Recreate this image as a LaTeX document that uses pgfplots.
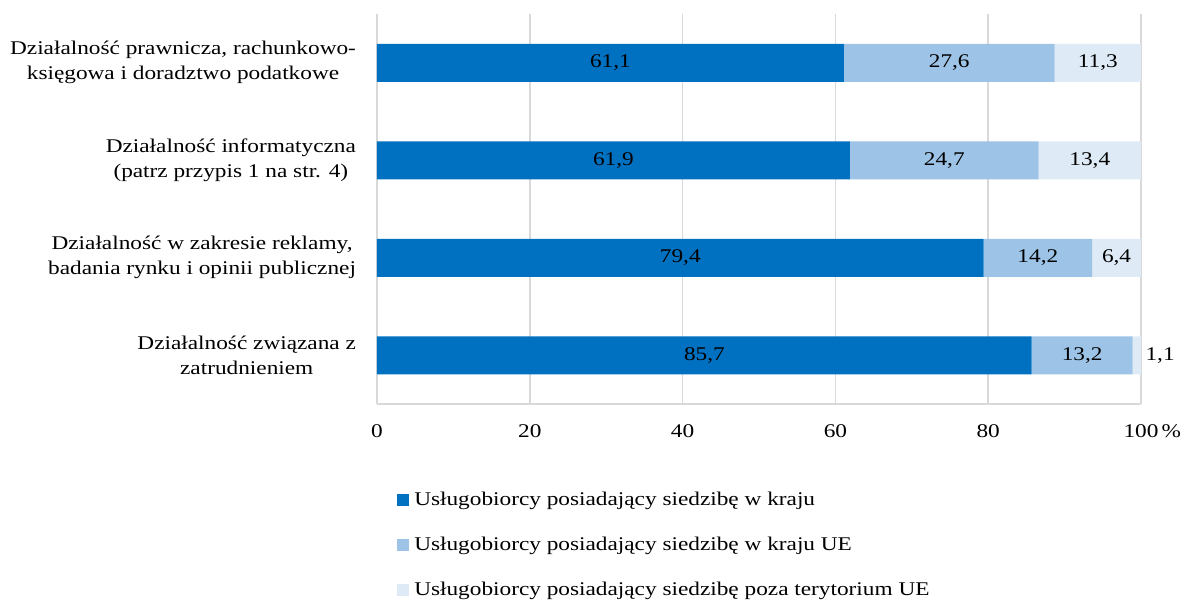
\documentclass[border=0pt]{standalone}
\usepackage{fontspec}
\setmainfont{Liberation Serif}[FakeStretch=1.2]
\usepackage{pgfplots}
\pgfplotsset{compat=1.18}
\definecolor{kraj}{HTML}{0070C0}
\definecolor{ue}{HTML}{9DC3E6}
\definecolor{poza}{HTML}{DEEBF7}
\definecolor{siatka}{HTML}{D9D9D9}

\begin{document}
\begin{tikzpicture}[font=\fontsize{9.7}{12.5}\selectfont]
\path[use as bounding box] (-188.5pt,-98pt) rectangle (403.5pt,202pt);
\pgfplotsset{common/.style={scale only axis,width=382pt,height=195pt,at={(0,0)},anchor=south west,
  xmin=0,xmax=100,ymin=-0.5,ymax=3.5,y dir=reverse}}
\begin{axis}[common,
  xbar stacked,bar width=19pt,
  axis x line*=bottom,axis y line*=left,
  x axis line style={draw=siatka,line width=0.8pt},y axis line style={draw=none},
  xtick={0,20,40,60,80,100},xticklabels={0,20,40,60,80,{100\rlap{\,\%}}},
  ytick={0,1,2,3},
  yticklabels={{Działalność prawnicza, rachunkowo-\\księgowa i doradztwo podatkowe},
    {Działalność informatyczna\\(patrz przypis 1 na str. 4)},
    {Działalność w zakresie reklamy,\\badania rynku i opinii publicznej},
    {Działalność związana z\\zatrudnieniem}},
  major tick length=0pt,
  xmajorgrids,grid style={draw=siatka,line width=0.8pt},
  xticklabel style={yshift=-7pt},
  yticklabel style={align=center,xshift=-7pt},
  /pgf/number format/assume math mode=true,
  legend style={at={(0.026,-0.214)},anchor=north west,draw=none,fill=none,inner sep=0pt,row sep=10.2pt,
    nodes={inner xsep=2.5pt}},
  legend cell align=left,
  legend image code/.code={\fill[#1] (0pt,-3pt) rectangle (6pt,3pt);},
]
\addplot[fill=kraj,draw=none] coordinates {(61.1,0) (61.9,1) (79.4,2) (85.7,3)};
\addlegendentry{Usługobiorcy posiadający siedzibę w kraju}
\addplot[fill=ue,draw=none] coordinates {(27.6,0) (24.7,1) (14.2,2) (13.2,3)};
\addlegendentry{Usługobiorcy posiadający siedzibę w kraju UE}
\addplot[fill=poza,draw=none] coordinates {(11.3,0) (13.4,1) (6.4,2) (1.1,3)};
\addlegendentry{Usługobiorcy posiadający siedzibę poza terytorium UE}
\end{axis}
\begin{axis}[common,hide axis,clip=false]
\addplot[only marks,mark=none,nodes near coords,point meta=explicit symbolic,
  every node near coord/.style={anchor=center,text=black}]
  table[meta=lab] {
x y lab
30.55 0 61,1
74.9 0 27,6
94.35 0 11,3
30.95 1 61,9
74.25 1 24,7
93.3 1 13,4
39.7 2 79,4
86.5 2 14,2
96.8 2 6,4
42.85 3 85,7
92.3 3 13,2
102.5 3 1,1
};
\end{axis}
\end{tikzpicture}
\end{document}
